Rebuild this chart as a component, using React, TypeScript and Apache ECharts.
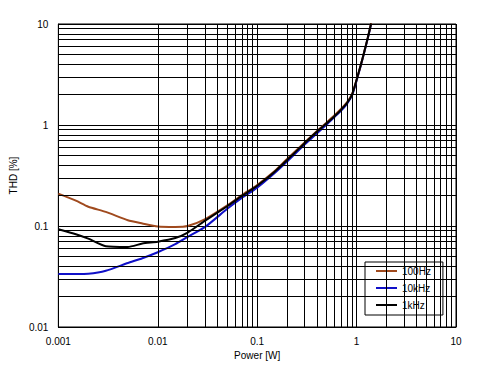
import React, { useEffect, useRef } from "react";
import * as echarts from "echarts";

const power = [0.001, 0.0015, 0.002, 0.003, 0.005, 0.007, 0.01, 0.015, 0.02, 0.03, 0.05, 0.07, 0.1, 0.15, 0.2, 0.3, 0.4, 0.5, 0.6, 0.7, 0.8, 0.9, 1.0, 1.1, 1.2, 1.3, 1.4];
const thd100Hz = [0.209, 0.178, 0.155, 0.138, 0.114, 0.106, 0.099, 0.098, 0.1, 0.117, 0.16, 0.202, 0.255, 0.35, 0.46, 0.67, 0.87, 1.06, 1.25, 1.45, 1.68, 2.02, 2.8, 3.9, 5.4, 7.4, 10.2];
const thd10kHz = [0.0335, 0.0334, 0.0336, 0.036, 0.043, 0.048, 0.055, 0.066, 0.078, 0.098, 0.148, 0.19, 0.24, 0.335, 0.435, 0.64, 0.83, 1.01, 1.2, 1.39, 1.62, 1.96, 2.75, 3.85, 5.35, 7.3, 10];
const thd1kHz = [0.093, 0.083, 0.075, 0.063, 0.062, 0.067, 0.07, 0.076, 0.086, 0.113, 0.157, 0.198, 0.25, 0.345, 0.45, 0.66, 0.86, 1.04, 1.22, 1.42, 1.65, 2.0, 2.8, 3.9, 5.4, 7.4, 10.1];

const xTickLabels = ["0.001", "0.01", "0.1", "1", "10"];
const yTickLabels = ["0.01", "0.1", "1", "10"];
const xDecades = [0.001, 0.01, 0.1, 1];
const yDecades = [0.01, 0.1, 1];
const minorMultipliers = [2, 3, 4, 5, 6, 7, 8, 9];

const seriesNames = ["100Hz", "10kHz", "1kHz"];
const seriesColors = ["#A04A1E", "#1010C8", "#000000"];

export default function App() {
  const ref = useRef<HTMLDivElement>(null);

  useEffect(() => {
    if (!ref.current) return;
    const chart = echarts.init(ref.current, undefined, { renderer: "svg" });
    const font = "'Liberation Sans', Arial, sans-serif";

    const gridLines: any[] = [];
    xDecades.forEach((d) => minorMultipliers.forEach((m) => gridLines.push({ xAxis: +(d * m).toPrecision(3) })));
    yDecades.forEach((d) => minorMultipliers.forEach((m) => gridLines.push({ yAxis: +(d * m).toPrecision(3) })));

    const mk = (name: string, color: string, vals: number[], z: number) => ({
      name,
      type: "line",
      data: power.map((p, i) => [p, vals[i]]),
      showSymbol: false,
      symbol: "none",
      smooth: 0.2,
      lineStyle: { color, width: 2 },
      itemStyle: { color },
      z,
      clip: true,
    });

    chart.setOption({
      animation: false,
      backgroundColor: "#ffffff",
      textStyle: { fontFamily: font },
      grid: {
        left: 54,
        right: 25,
        top: 24,
        bottom: 49,
        show: true,
        borderColor: "#000",
        borderWidth: 1,
        backgroundColor: "#fff",
      },
      legend: {
        data: seriesNames,
        orient: "vertical",
        left: 365,
        top: 262,
        itemWidth: 21,
        itemHeight: 2,
        itemGap: 5,
        padding: [3, 12, 4, 11],
        backgroundColor: "#ffffff",
        borderColor: "#000000",
        borderWidth: 1,
        borderRadius: 0,
        icon: "rect",
        textStyle: { fontSize: 10, color: "#000", fontFamily: font, lineHeight: 12 },
        selectedMode: false,
      },
      xAxis: {
        type: "log",
        logBase: 10,
        min: 0.001,
        max: 10,
        name: "Power [W]",
        nameLocation: "middle",
        nameGap: 23,
        nameTextStyle: { fontSize: 10, color: "#000", fontFamily: font },
        axisLine: { show: true, lineStyle: { color: "#000", width: 1 } },
        axisTick: { show: false },
        axisLabel: {
          fontSize: 10,
          color: "#000",
          margin: 9,
          fontFamily: font,
          formatter: (v: number, i: number) => xTickLabels[i] ?? String(v),
        },
        splitLine: { show: true, lineStyle: { color: "#000", width: 1 } },
      },
      yAxis: {
        type: "log",
        logBase: 10,
        min: 0.01,
        max: 10,
        name: "THD [%]",
        nameLocation: "middle",
        nameGap: 37,
        nameRotate: 90,
        nameTextStyle: { fontSize: 10, color: "#000", fontFamily: font },
        axisLine: { show: true, lineStyle: { color: "#000", width: 1 } },
        axisTick: { show: false },
        axisLabel: {
          fontSize: 10,
          color: "#000",
          margin: 10,
          fontFamily: font,
          formatter: (v: number, i: number) => yTickLabels[i] ?? String(v),
        },
        splitLine: { show: true, lineStyle: { color: "#000", width: 1 } },
      },
      series: [
        {
          name: "grid",
          type: "line",
          data: [],
          z: 1,
          markLine: {
            silent: true,
            symbol: ["none", "none"],
            label: { show: false },
            lineStyle: { color: "#000", width: 1, type: "solid" },
            emphasis: { disabled: true },
            data: gridLines,
          },
        },
        mk(seriesNames[1], seriesColors[1], thd10kHz, 3),
        mk(seriesNames[0], seriesColors[0], thd100Hz, 4),
        mk(seriesNames[2], seriesColors[2], thd1kHz, 5),
      ],
    });

    return () => chart.dispose();
  }, []);

  return (
    <div
      ref={ref}
      style={{ position: "fixed", left: 0, top: 0, width: 481, height: 376, background: "#fff" }}
    />
  );
}
